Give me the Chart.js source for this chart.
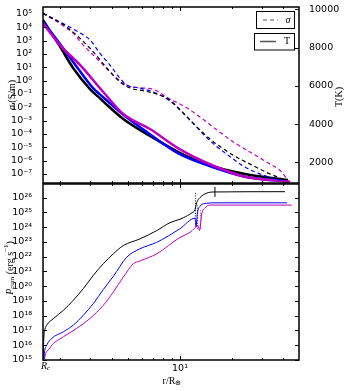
<!DOCTYPE html>
<html>
<head>
<meta charset="utf-8">
<script src="https://cdn.jsdelivr.net/npm/chart.js@4"></script>
<style>
  html, body { margin: 0; padding: 0; background: #fff; }
  #wrap { position: relative; width: 350px; height: 391px; overflow: hidden; }
  canvas { position: absolute; left: 0; }
  #bottom { top: 178px; }
  #top { top: 0; }
</style>
</head>
<body>
<div id="wrap">
  <canvas id="bottom" width="350" height="213"></canvas>
  <canvas id="top" width="350" height="190"></canvas>
</div>
<script>
// Rayon (r / R_earth) et conductivité sigma (S/m) - courbes en tirets
const rSigmaK = [1.594, 2.141, 2.993, 3.914, 4.578, 5.117, 6.256, 7.648, 8.746, 10.0, 12.23, 14.95, 17.56, 21.76, 26.25, 32.52, 40.85];
const sigmaK = [1.12e5, 1.32e4, 269, 4.68, 0.63, 0.28, 0.166, 0.083, 0.035, 6.3e-3, 4.7e-4, 4.2e-5, 8.9e-6, 1.6e-6, 4.7e-7, 1.17e-7, 3.5e-8];
const rSigmaB = [1.594, 2.002, 2.448, 2.993, 3.422, 3.914, 4.475, 4.895, 5.851, 7.648, 9.352, 11.44, 13.98, 15.98, 19.03, 23.89, 28.45, 34.31, 40.85];
const sigmaB = [1.12e5, 2.5e4, 6.3e3, 1.12e3, 112, 14.8, 1.51, 0.47, 0.28, 0.083, 0.0148, 1.12e-3, 7.1e-5, 1.48e-5, 2.6e-6, 3.3e-7, 1.17e-7, 5.0e-8, 2.95e-8];
const rSigmaM = [1.594, 2.002, 2.392, 2.736, 3.129, 3.578, 4.281, 5.117, 5.851, 7.153, 8.516, 10.69, 13.38, 16.71, 20.90, 26.15, 32.66, 39.08, 42.70];
const sigmaM = [1.12e5, 1.9e4, 3.5e3, 468, 83, 14.8, 1.51, 0.355, 0.295, 0.2, 0.05, 0.0112, 1.51e-3, 1.66e-4, 2.1e-5, 3.7e-6, 6.6e-7, 1.41e-7, 2.95e-8];

// Température T (K) - courbes pleines
const rTempK = [1.594, 2.002, 2.392, 2.993, 3.422, 4.677, 6.689, 9.774, 14.61, 23.89, 42.5];
const tempK = [9440, 8050, 6920, 5830, 5340, 4270, 3380, 2540, 1860, 1390, 1080];
const rTempB = [1.594, 2.002, 2.504, 3.129, 3.422, 4.785, 6.689, 9.774, 15.30, 23.89, 42.5];
const tempB = [9350, 8190, 7000, 5870, 5550, 4420, 3470, 2470, 1770, 1250, 1000];
const rTempM = [1.594, 2.002, 2.617, 3.66, 4.677, 6.689, 9.774, 15.30, 23.89, 43.7];
const tempM = [9270, 8130, 7090, 5570, 4530, 3740, 2730, 1860, 1250, 990];

// Puissance cumulée P_cum (erg/s)
const rPowK = [1.597, 1.605, 1.616, 1.638, 1.676, 1.838, 2.093, 2.392, 2.736, 3.129, 3.578, 4.091, 4.677, 5.851, 7.318, 8.746, 10.0, 10.45, 11.74, 12.23, 12.51, 13.08, 14.30, 15.98, 40.85];
const powK = [1.17e15, 1.02e16, 4.9e16, 1.23e17, 2.29e17, 6.5e17, 2.3e18, 1.1e19, 6.8e19, 5.4e20, 3.3e21, 1.55e22, 5.6e22, 1.6e23, 5.8e23, 2.0e24, 3.4e24, 4.3e24, 9.3e24, 1.5e25, 4.6e25, 1.0e26, 2.0e26, 2.4e26, 2.5e26];
const rPowB = [1.616, 1.627, 1.671, 1.792, 2.093, 2.392, 2.736, 3.129, 3.578, 4.091, 4.895, 5.851, 7.318, 10.0, 12.23, 12.39, 12.64, 13.08, 14.30, 15.98, 41.96];
const powB = [1.17e15, 3.5e15, 9.5e15, 2.9e16, 8.1e16, 2.3e17, 1.07e18, 6.6e18, 6.0e19, 4.6e20, 9.1e21, 3.4e22, 9.3e22, 7.8e23, 4.0e24, 1.07e24, 9.3e24, 2.6e25, 4.1e25, 4.4e25, 4.4e25];
const rPowM = [1.627, 1.649, 1.712, 1.838, 2.093, 2.504, 2.993, 3.578, 4.091, 4.677, 5.348, 5.851, 7.318, 10.0, 11.44, 12.78, 12.99, 13.38, 13.98, 14.95, 44.7];
const powM = [1.17e15, 2.6e15, 4.8e15, 1.35e16, 3.7e16, 1.38e17, 6.5e17, 5.1e18, 4.0e19, 4.1e20, 3.3e21, 5.1e21, 1.55e22, 2.0e23, 4.4e23, 1.23e24, 5.8e23, 7.6e24, 2.0e25, 3.1e25, 3.1e25];

// Lignes verticales pointillées (K, B, M) et repère "|"
const cutR = [12.3, 12.64, 13.2];
const cutTop = [2.2e26, 2.8e25, 1.5e25];
const cutBottom = [3.6e24, 7.8e23, 7.8e23];
const markR = [15.98];
const markP = [2.4e26];

// Graduations
const sigmaTickExp = [5, 4, 3, 2, 1, 0, -1, -2, -3, -4, -5, -6, -7];
const tempTicks = [2000, 4000, 6000, 8000, 10000];
const powTickExp = [15, 16, 17, 18, 19, 20, 21, 22, 23, 24, 25, 26];
const rMajorTicks = [10];
const rMinorTicks = [2, 3, 4, 5, 6, 7, 8, 9, 20, 30, 40];

const rMin = 1.594, rMax = 49.3;
const BLACK = "#000000", BLUE = "#0000ff", MAGENTA = "#bf00bf";
const SANS = "'DejaVu Sans', sans-serif";
const SERIF = "'Liberation Serif', serif";
const tickFont = { family: SANS, size: 9.5 };

const SUP = { "0": "⁰", "1": "¹", "2": "²", "3": "³", "4": "⁴", "5": "⁵", "6": "⁶", "7": "⁷", "8": "⁸", "9": "⁹", "-": "⁻" };
function sup(n) {
  return String(n).split("").map((c) => SUP[c]).join("");
}
function pts(xs, ys) {
  return xs.map((x, i) => ({ x: x, y: ys[i] }));
}
function line(xs, ys, color, width, dash, axis) {
  return {
    data: pts(xs, ys),
    borderColor: color,
    borderWidth: width,
    borderDash: dash || [],
    yAxisID: axis,
    pointRadius: 0,
    fill: false,
    cubicInterpolationMode: "monotone",
  };
}
function fixSize(w, h) {
  return function (s) {
    if (w !== null) s.width = w;
    if (h !== null) s.height = h;
    s.paddingTop = 0;
    s.paddingBottom = 0;
    s.paddingLeft = 0;
    s.paddingRight = 0;
  };
}

// Cadre + graduations intérieures
function drawFrame(chart, leftId, leftVals, rightId, rightVals) {
  const ctx = chart.ctx;
  const a = chart.chartArea;
  const xs = chart.scales.x;
  ctx.save();
  ctx.strokeStyle = "#000";
  ctx.lineWidth = 1;
  ctx.beginPath();
  function vt(v, len) {
    const p = Math.round(xs.getPixelForValue(v)) + 0.5;
    ctx.moveTo(p, a.bottom);
    ctx.lineTo(p, a.bottom - len);
    ctx.moveTo(p, a.top);
    ctx.lineTo(p, a.top + len);
  }
  rMajorTicks.forEach((v) => vt(v, 4));
  rMinorTicks.forEach((v) => vt(v, 2));
  leftVals.forEach((v) => {
    const p = Math.round(chart.scales[leftId].getPixelForValue(v)) + 0.5;
    ctx.moveTo(a.left, p);
    ctx.lineTo(a.left + 4, p);
  });
  rightVals.forEach((v) => {
    const p = Math.round(chart.scales[rightId].getPixelForValue(v)) + 0.5;
    ctx.moveTo(a.right, p);
    ctx.lineTo(a.right - 4, p);
  });
  ctx.stroke();
  ctx.lineWidth = 1.5;
  ctx.strokeRect(a.left, a.top, a.right - a.left, a.bottom - a.top);
  ctx.restore();
}

// Texte avec indices / exposants
function richText(ctx, parts, x, y, angle) {
  ctx.save();
  ctx.translate(x, y);
  ctx.rotate(angle || 0);
  ctx.textBaseline = "middle";
  ctx.textAlign = "left";
  ctx.fillStyle = "#000";
  let w = 0;
  parts.forEach((p) => {
    ctx.font = p.font;
    p.w = ctx.measureText(p.text).width;
    w += p.w;
  });
  let cx = -w / 2;
  parts.forEach((p) => {
    ctx.font = p.font;
    ctx.fillText(p.text, cx, p.dy || 0);
    cx += p.w;
  });
  ctx.restore();
}

const topDecor = {
  id: "topDecor",
  afterDraw(chart) {
    const ctx = chart.ctx;
    drawFrame(chart, "y", sigmaTickExp.map((e) => Math.pow(10, e)), "yT", tempTicks);
    richText(ctx, [
      { text: "σ", font: "italic 10px " + SERIF },
      { text: " (S/m)", font: "10px " + SERIF },
    ], 12.5, 95, -Math.PI / 2);
    richText(ctx, [{ text: "T(K)", font: "10px " + SERIF }], 339, 97, -Math.PI / 2);

    // Légende (deux cadres séparés)
    ctx.save();
    ctx.fillStyle = "#fff";
    ctx.strokeStyle = "#000";
    ctx.lineWidth = 1;
    ctx.fillRect(256.5, 11.5, 38, 17);
    ctx.strokeRect(256.5, 11.5, 38, 17);
    ctx.fillRect(254.5, 33.5, 40, 16.5);
    ctx.strokeRect(254.5, 33.5, 40, 16.5);
    ctx.strokeStyle = "#555";
    ctx.lineWidth = 1.2;
    ctx.setLineDash([4, 3]);
    ctx.beginPath();
    ctx.moveTo(263, 20);
    ctx.lineTo(278, 20);
    ctx.stroke();
    ctx.setLineDash([]);
    ctx.lineWidth = 1.5;
    ctx.beginPath();
    ctx.moveTo(260, 41.5);
    ctx.lineTo(276, 41.5);
    ctx.stroke();
    ctx.restore();
    richText(ctx, [{ text: "σ", font: "italic 10px " + SERIF }], 288, 20);
    richText(ctx, [{ text: "T", font: "10px " + SERIF }], 287, 41.5);
  },
};

const bottomDecor = {
  id: "bottomDecor",
  afterDraw(chart) {
    const ctx = chart.ctx;
    const powVals = powTickExp.map((e) => Math.pow(10, e));
    drawFrame(chart, "y", powVals, "y", powVals);
    // page y = canvas y + 178
    richText(ctx, [
      { text: "P", font: "italic 10px " + SERIF },
      { text: "cum", font: "7px " + SERIF, dy: 2.5 },
      { text: " (erg s", font: "10px " + SERIF },
      { text: "−1", font: "7px " + SERIF, dy: -3.5 },
      { text: ")", font: "10px " + SERIF },
    ], 10, 90, -Math.PI / 2);
    richText(ctx, [
      { text: "r/R", font: "10px " + SERIF },
      { text: "⊕", font: "7px " + SERIF, dy: 2.5 },
    ], 172, 203);
    richText(ctx, [
      { text: "R", font: "italic 10px " + SERIF },
      { text: "c", font: "italic 7px " + SERIF, dy: 2.5 },
    ], 45.5, 188);
  },
};

// Panneau du haut : sigma et T
new Chart(document.getElementById("top"), {
  type: "line",
  data: {
    datasets: [
      line(rSigmaK, sigmaK, BLACK, 1.2, [4, 3], "y"),
      line(rSigmaB, sigmaB, BLUE, 1.2, [4, 3], "y"),
      line(rSigmaM, sigmaM, MAGENTA, 1.2, [4, 3], "y"),
      line(rTempM, tempM, MAGENTA, 2.5, null, "yT"),
      line(rTempB, tempB, BLUE, 2.5, null, "yT"),
      line(rTempK, tempK, BLACK, 2.5, null, "yT"),
    ],
  },
  options: {
    responsive: false,
    animation: false,
    events: [],
    layout: { padding: { top: 7, left: 0, right: 0, bottom: 0 } },
    plugins: { legend: { display: false }, tooltip: { enabled: false } },
    scales: {
      x: {
        type: "logarithmic",
        min: rMin,
        max: rMax,
        ticks: { display: false },
        grid: { display: false },
        border: { display: false },
        afterFit: fixSize(null, 7),
      },
      y: {
        type: "logarithmic",
        position: "left",
        min: 2.11e-8,
        max: 3.35e5,
        afterBuildTicks: (s) => {
          s.ticks = sigmaTickExp.map((e) => ({ value: Math.pow(10, e) }));
        },
        ticks: {
          autoSkip: false,
          padding: 3,
          font: tickFont,
          color: "#000",
          callback: (v) => "10" + sup(Math.round(Math.log10(v))),
        },
        grid: { display: false },
        border: { display: false },
        afterFit: fixSize(43, null),
      },
      yT: {
        type: "linear",
        position: "right",
        min: 920,
        max: 10120,
        afterBuildTicks: (s) => {
          s.ticks = tempTicks.map((v) => ({ value: v }));
        },
        ticks: {
          autoSkip: false,
          padding: 2,
          font: tickFont,
          color: "#000",
          callback: (v) => String(v),
        },
        grid: { display: false },
        border: { display: false },
        afterFit: fixSize(51, null),
      },
    },
  },
  plugins: [topDecor],
});

// Panneau du bas : puissance cumulée
const cutColors = [BLACK, BLUE, MAGENTA];
const cutSets = cutR.map((r, i) => ({
  data: [{ x: r, y: cutBottom[i] }, { x: r, y: cutTop[i] }],
  borderColor: cutColors[i],
  borderWidth: 1,
  borderDash: [1, 1.5],
  pointRadius: 0,
  tension: 0,
  fill: false,
}));

new Chart(document.getElementById("bottom"), {
  type: "line",
  data: {
    datasets: [
      line(rPowK, powK, BLACK, 1, null, "y"),
      line(rPowB, powB, BLUE, 1, null, "y"),
      line(rPowM, powM, MAGENTA, 1, null, "y"),
      ...cutSets,
      {
        data: pts(markR, markP),
        showLine: false,
        pointStyle: "line",
        rotation: 90,
        pointRadius: 5,
        borderColor: BLACK,
        borderWidth: 1,
      },
    ],
  },
  options: {
    responsive: false,
    animation: false,
    events: [],
    layout: { padding: { top: 5, left: 0, right: 51, bottom: 0 } },
    plugins: { legend: { display: false }, tooltip: { enabled: false } },
    scales: {
      x: {
        type: "logarithmic",
        min: rMin,
        max: rMax,
        afterBuildTicks: (s) => {
          s.ticks = rMajorTicks.map((v) => ({ value: v }));
        },
        ticks: {
          autoSkip: false,
          maxRotation: 0,
          padding: -5,
          font: tickFont,
          color: "#000",
          callback: (v) => "10" + sup(Math.round(Math.log10(v))),
        },
        grid: { display: false },
        border: { display: false },
        afterFit: fixSize(null, 31),
      },
      y: {
        type: "logarithmic",
        position: "left",
        min: 1e15,
        max: 8.3e26,
        afterBuildTicks: (s) => {
          s.ticks = powTickExp.map((e) => ({ value: Math.pow(10, e) }));
        },
        ticks: {
          autoSkip: false,
          padding: 3,
          font: tickFont,
          color: "#000",
          callback: (v) => "10" + sup(Math.round(Math.log10(v))),
        },
        grid: { display: false },
        border: { display: false },
        afterFit: fixSize(43, null),
      },
    },
  },
  plugins: [bottomDecor],
});
</script>
</body>
</html>
